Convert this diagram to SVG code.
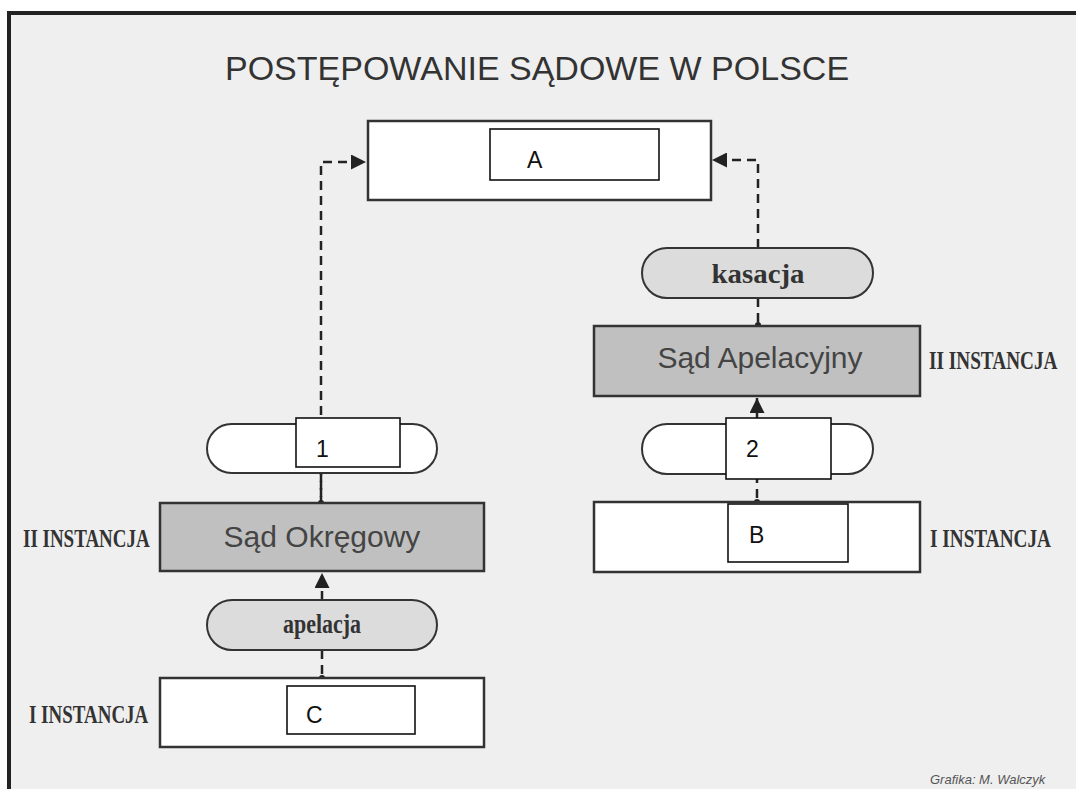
<svg xmlns="http://www.w3.org/2000/svg" width="1076" height="789" viewBox="0 0 1076 789">
<defs>
<marker id="ah" viewBox="0 0 14 14" refX="14" refY="7" markerWidth="15" markerHeight="15" markerUnits="userSpaceOnUse" orient="auto">
<path d="M0,0 L14,7 L0,14 Z" fill="#222"/>
</marker>
<style>
.bg{fill:#efefef}
.frame{fill:none;stroke:#222;stroke-width:4}
.title{font-family:"Liberation Sans",Arial,sans-serif;font-size:34px;fill:#333}
.box{fill:#fff;stroke:#333;stroke-width:2.5}
.gbox{fill:#c0c0c0;stroke:#333;stroke-width:2.5}
.pill{fill:#fff;stroke:#333;stroke-width:2}
.gpill{fill:#dcdcdc;stroke:#333;stroke-width:2}
.court{font-family:"Liberation Sans",Arial,sans-serif;font-size:30px;fill:#444;text-anchor:middle}
.pilltxt{font-family:"Liberation Serif","Times New Roman",serif;font-weight:bold;font-size:28px;fill:#333;text-anchor:middle}
.inst{font-family:"Liberation Serif","Times New Roman",serif;font-weight:bold;font-size:26px;fill:#333}
.lbl{fill:#fff;stroke:#111;stroke-width:1.6}
.lbltxt{font-family:"Liberation Sans",Arial,sans-serif;font-size:23px;fill:#111}
.dash{fill:none;stroke:#222;stroke-width:2.5;stroke-dasharray:9 6}
.dot{fill:#222}
.credit{font-family:"Liberation Sans",Arial,sans-serif;font-style:italic;font-size:13px;fill:#555}
</style>
</defs>
<rect class="bg" x="0" y="0" width="1076" height="789"/>
<rect x="0" y="0" width="1076" height="11" fill="#fff"/>
<rect x="0" y="0" width="7" height="789" fill="#fff"/>
<path class="frame" d="M9,789 V13 H1076"/>
<text class="title" x="225" y="80">POSTĘPOWANIE SĄDOWE W POLSCE</text>

<g id="connectors">
<path class="dash" d="M321,505 V162 H366" marker-end="url(#ah)"/>
<path class="dash" d="M758,248 V160 H712" marker-end="url(#ah)"/>
<path class="dash" d="M758,298 V325"/>
<circle class="dot" cx="758" cy="325" r="3"/>
<path class="dash" d="M757,418 V398" marker-end="url(#ah)"/>
<path class="dash" d="M757,474 V501"/>
<circle class="dot" cx="757" cy="502" r="3"/>
<path class="dash" d="M321,473 V502"/>
<circle class="dot" cx="321" cy="503" r="3"/>
<path class="dash" d="M322,600 V573" marker-end="url(#ah)"/>
<path class="dash" d="M322,650 V677"/>
<circle class="dot" cx="322" cy="678" r="3"/>
</g>

<g id="nodeA">
<rect class="box" x="368" y="121" width="343" height="79"/>
<rect class="lbl" x="490" y="129" width="169" height="51"/>
<text class="lbltxt" x="527" y="168">A</text>
</g>

<g id="kasacja">
<rect class="gpill" x="642" y="248" width="231" height="50" rx="25"/>
<text class="pilltxt" x="758" y="283" textLength="93" lengthAdjust="spacingAndGlyphs">kasacja</text>
</g>

<g id="sadApelacyjny">
<rect class="gbox" x="594" y="326" width="326" height="70"/>
<text class="court" x="760" y="368">Sąd Apelacyjny</text>
</g>
<text class="inst" transform="translate(929,369) scale(0.74,1)">II INSTANCJA</text>

<g id="pill2">
<rect class="pill" x="642" y="424" width="231" height="50" rx="25"/>
<rect class="lbl" x="726" y="418" width="105" height="61"/>
<text class="lbltxt" x="746" y="457">2</text>
</g>

<g id="nodeB">
<rect class="box" x="594" y="502" width="326" height="70"/>
<rect class="lbl" x="728" y="504" width="120" height="58"/>
<text class="lbltxt" x="749" y="543">B</text>
</g>
<text class="inst" transform="translate(930,547) scale(0.74,1)">I INSTANCJA</text>

<g id="pill1">
<rect class="pill" x="207" y="424" width="230" height="49" rx="24.5"/>
<rect class="lbl" x="296" y="418" width="104" height="49"/>
<text class="lbltxt" x="316" y="457">1</text>
</g>

<g id="sadOkregowy">
<rect class="gbox" x="160" y="503" width="324" height="68"/>
<text class="court" x="322" y="547">Sąd Okręgowy</text>
</g>
<text class="inst" transform="translate(23,547) scale(0.73,1)">II INSTANCJA</text>

<g id="apelacja">
<rect class="gpill" x="207" y="600" width="230" height="50" rx="25"/>
<text class="pilltxt" x="322" y="633" textLength="78" lengthAdjust="spacingAndGlyphs">apelacja</text>
</g>

<g id="nodeC">
<rect class="box" x="160" y="678" width="324" height="69"/>
<rect class="lbl" x="287" y="686" width="128" height="48"/>
<text class="lbltxt" x="306" y="723">C</text>
</g>
<text class="inst" transform="translate(29,723) scale(0.73,1)">I INSTANCJA</text>

<text class="credit" x="930" y="784">Grafika: M. Walczyk</text>
</svg>
